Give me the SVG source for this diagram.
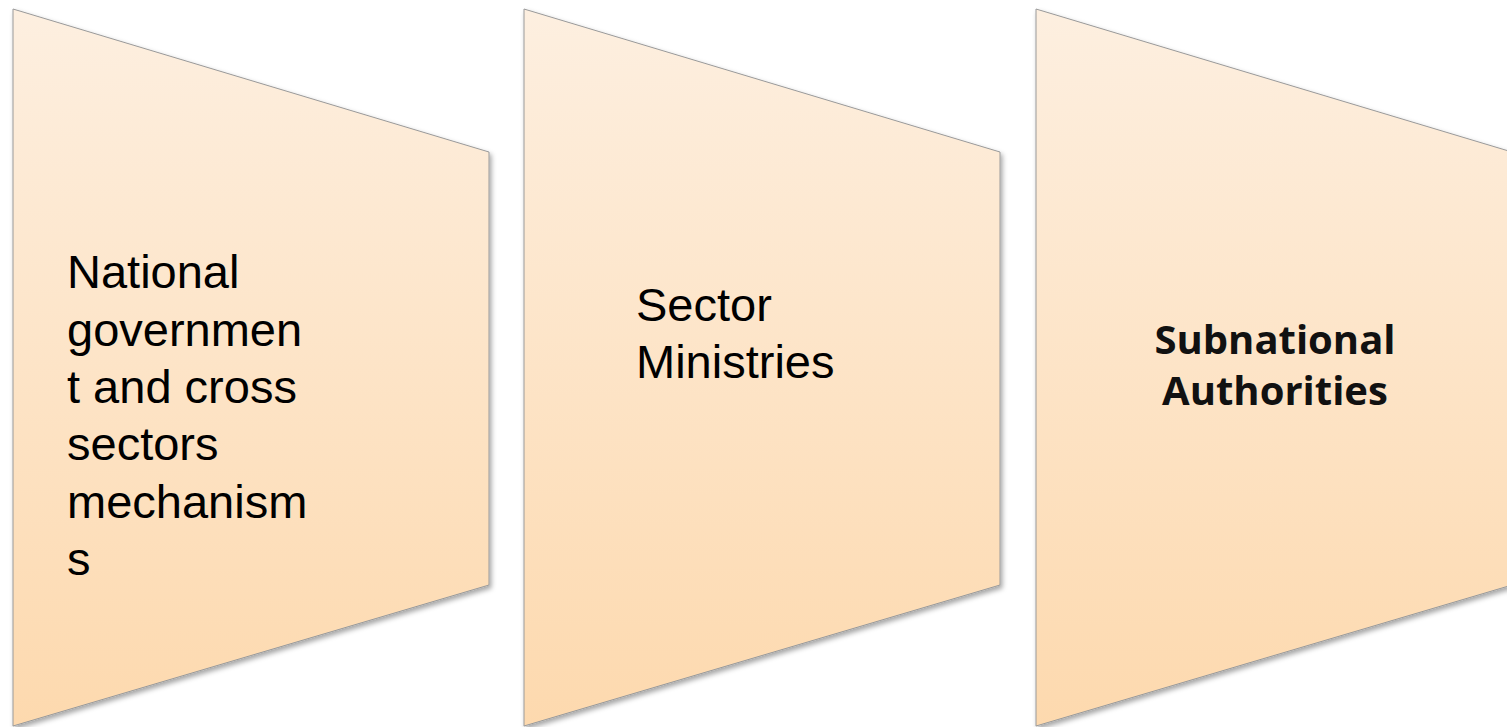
<svg xmlns="http://www.w3.org/2000/svg" width="1507" height="727" viewBox="0 0 1507 727">
<style>
.shape{fill:url(#g);stroke:#9a9a9a;stroke-width:1;filter:url(#sh)}
.t{font-family:"Liberation Sans",Arial,sans-serif;font-size:47px;fill:#000}
.b{font-family:"Open Sans","Noto Sans",sans-serif;font-weight:bold;font-size:40px;fill:#111;text-anchor:middle}
</style>
<defs>
<linearGradient id="g" x1="0" y1="0" x2="0" y2="1">
<stop offset="0" stop-color="#fdefe0"/>
<stop offset="1" stop-color="#fdd9ae"/>
</linearGradient>
<filter id="sh" x="-5%" y="-5%" width="115%" height="115%">
<feDropShadow dx="2" dy="3" stdDeviation="2.5" flood-color="#000" flood-opacity="0.35"/>
</filter>
</defs>
<rect width="1507" height="727" fill="#fff"/>
<g id="node1">
<path class="shape" d="M13,9 L489,152 L489,585 L13,726 Z"/>
<text class="t" x="67" y="288">National</text>
<text class="t" x="67" y="345.5">governmen</text>
<text class="t" x="67" y="403">t and cross</text>
<text class="t" x="67" y="460">sectors</text>
<text class="t" x="67" y="518">mechanism</text>
<text class="t" x="67" y="575">s</text>
</g>
<g id="node2">
<path class="shape" d="M524,9 L1000,152 L1000,585 L524,726 Z"/>
<text class="t" x="636" y="321">Sector</text>
<text class="t" x="636" y="378">Ministries</text>
</g>
<g id="node3">
<path class="shape" d="M1036,9 L1512,152 L1512,585 L1036,726 Z"/>
<text class="b" x="1275" y="354">Subnational</text>
<text class="b" x="1275" y="405">Authorities</text>
</g>
<g id="connectors"/>
</svg>
